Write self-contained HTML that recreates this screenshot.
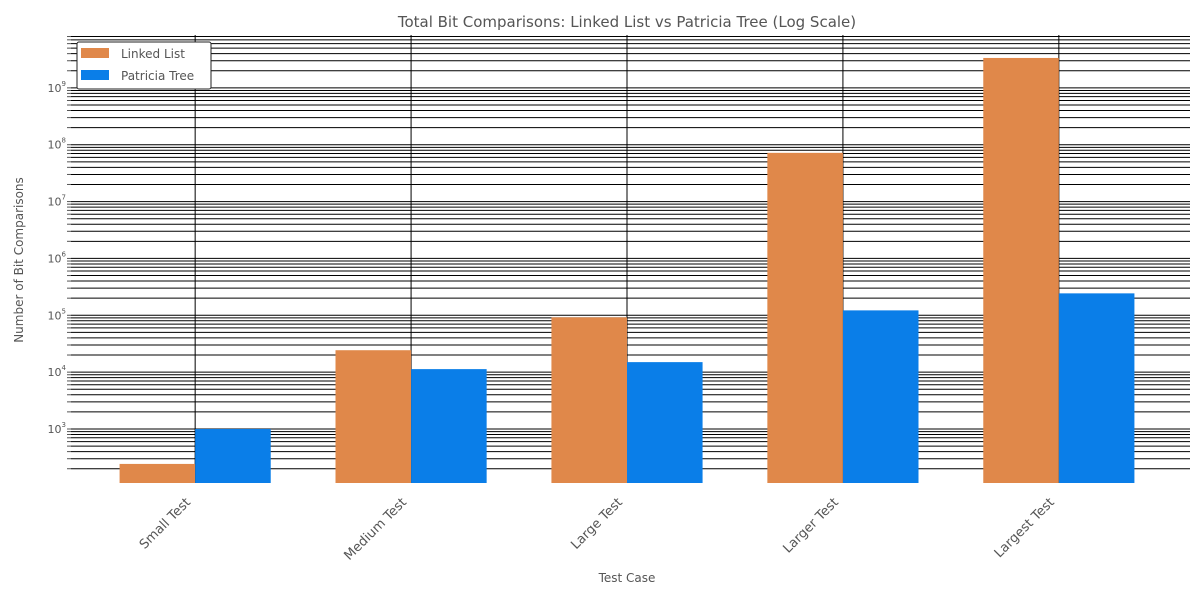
<!DOCTYPE html>
<html><head><meta charset="utf-8"><style>
html,body{margin:0;padding:0;background:#fff;}
svg text{font-family:"DejaVu Sans","Liberation Sans",sans-serif;fill:#555;}
</style></head><body>
<svg id="chart" width="1200" height="600" xmlns="http://www.w3.org/2000/svg">
<text x="627" y="27" text-anchor="middle" font-size="15">Total Bit Comparisons: Linked List vs Patricia Tree (Log Scale)</text>
<text x="627" y="582" text-anchor="middle" font-size="12">Test Case</text>
<text transform="translate(23,260) rotate(-90)" text-anchor="middle" font-size="12">Number of Bit Comparisons</text>
<g id="grid"></g><g id="bars"></g><g id="ticks"></g>
<g>
<rect x="77" y="42" width="134" height="47" fill="#fff" stroke="#222" rx="2"/>
<rect x="81" y="48" width="28" height="10" fill="#e0884a"/>
<text x="121" y="58" font-size="12">Linked List</text>
<rect x="81" y="70" width="28" height="10" fill="#0a7ee8"/>
<text x="121" y="80" font-size="12">Patricia Tree</text>
</g>
</svg>
<script>
const categories=["Small Test","Medium Test","Large Test","Larger Test","Largest Test"];
const linkedList=[243,24300,92000,72000000,3360000000];
const patriciaTree=[1000,11300,15000,122000,243000];
const decades=[3,4,5,6,7,8,9];
const NS="http://www.w3.org/2000/svg";
const L=71,R=1183,T=35,B=483,ymin=2.05,ymax=9.93;
const y=v=>B-(Math.log10(v)-ymin)/(ymax-ymin)*(B-T);
const step=(R-L)/5.15;
const xc=i=>L+(i+0.575)*step;
const bw=0.35*step;
function mk(tag,attrs,parent){const e=document.createElementNS(NS,tag);for(const k in attrs)e.setAttribute(k,attrs[k]);document.getElementById(parent).appendChild(e);return e;}
for(let d=2;d<=9;d++){for(let m=1;m<10;m++){const v=m*Math.pow(10,d);const yy=y(v);if(yy<T||yy>B)continue;
const g=mk('line',{x1:L,x2:R+7,y1:yy,y2:yy,stroke:'#000','stroke-width':1},'grid');


mk('line',{x1:L-4,x2:L,y1:yy,y2:yy,stroke:'#555','stroke-width':1},'ticks');}}
decades.forEach(d=>{const t=mk('text',{x:L-5,y:y(Math.pow(10,d))+4,'text-anchor':'end','font-size':11},'ticks');


t.innerHTML='10<tspan font-size="7" dy="-6">'+d+'</tspan>';});
categories.forEach((c,i)=>{const x=xc(i);
const g=mk('line',{x1:x,x2:x,y1:T,y2:B,stroke:'#000','stroke-width':1},'grid');


const b1=mk('rect',{x:x-bw,y:y(linkedList[i]),width:bw,height:B-y(linkedList[i]),fill:'#e0884a'},'bars');


const b2=mk('rect',{x:x,y:y(patriciaTree[i]),width:bw,height:B-y(patriciaTree[i]),fill:'#0a7ee8'},'bars');


const lx=x-4,ly=503;
const t=mk('text',{x:lx,y:ly,'text-anchor':'end','font-size':13,transform:'rotate(-45 '+lx+' '+ly+')'},'ticks');


t.textContent=c;});
</script>
</body></html>
